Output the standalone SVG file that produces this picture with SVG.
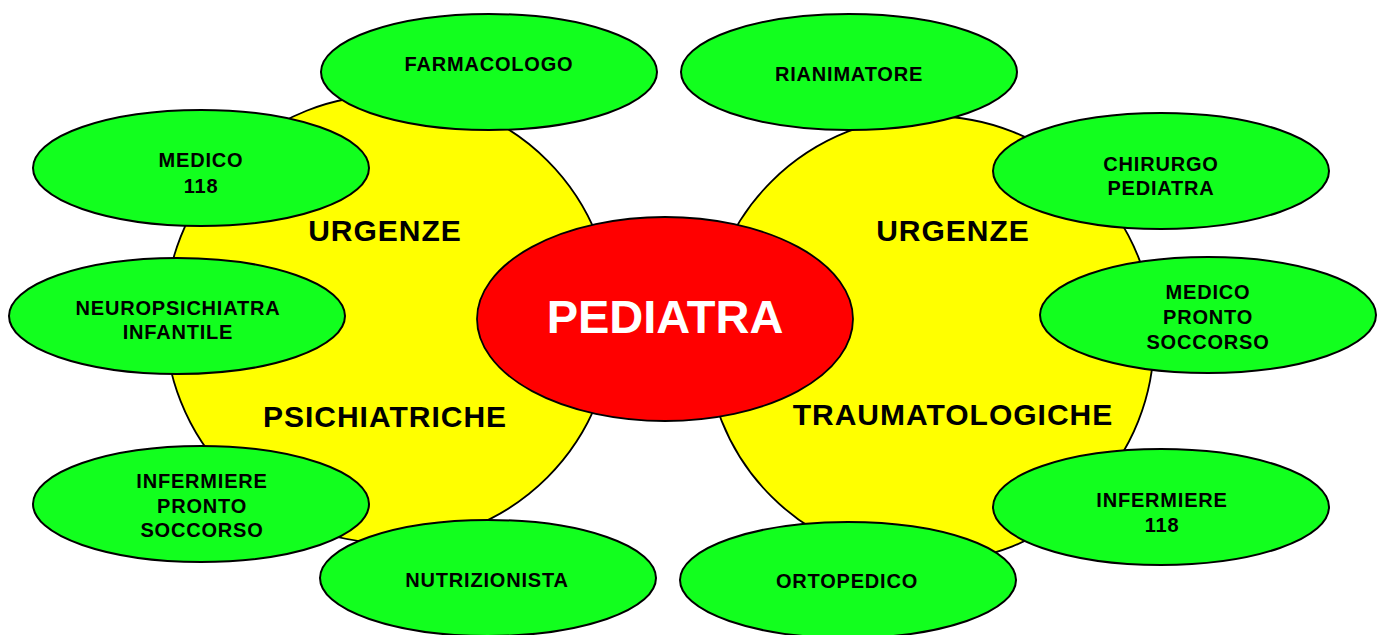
<svg xmlns="http://www.w3.org/2000/svg" width="1383" height="635" viewBox="0 0 1383 635">
<style>
.y{fill:#FFFF00;stroke:#000;stroke-width:1.8}
.r{fill:#FF0000;stroke:#000;stroke-width:1.8}
.g{fill:#12FF1E;stroke:#000;stroke-width:2}
.t{font-family:"Liberation Sans",Arial,sans-serif;font-weight:bold;font-size:20px;letter-spacing:0.8px;text-anchor:middle;fill:#000}
.b{font-family:"Liberation Sans",Arial,sans-serif;font-weight:bold;font-size:30px;letter-spacing:1px;text-anchor:middle;fill:#000}
.p{font-family:"Liberation Sans",Arial,sans-serif;font-weight:bold;font-size:47px;text-anchor:middle;fill:#fff}
</style>
<rect width="1383" height="635" fill="#fff"/>
<g id="connectors"></g>
<g id="urgenze-psichiatriche">
<circle class="y" cx="389" cy="319" r="224"/>
<text class="b" x="385" y="241">URGENZE</text>
<text class="b" x="385" y="427">PSICHIATRICHE</text>
</g>
<g id="urgenze-traumatologiche">
<ellipse class="y" cx="930" cy="339" rx="224" ry="223"/>
<text class="b" x="953" y="241">URGENZE</text>
<text class="b" x="953" y="425">TRAUMATOLOGICHE</text>
</g>
<g id="pediatra">
<ellipse class="r" cx="665" cy="319" rx="188" ry="102"/>
<text class="p" x="665" y="333">PEDIATRA</text>
</g>
<g id="farmacologo">
<ellipse class="g" cx="489" cy="72" rx="168" ry="58"/>
<text class="t" x="489" y="71">FARMACOLOGO</text>
</g>
<g id="rianimatore">
<ellipse class="g" cx="849" cy="72" rx="168" ry="58"/>
<text class="t" x="849" y="81">RIANIMATORE</text>
</g>
<g id="medico-118">
<ellipse class="g" cx="201" cy="168" rx="168" ry="58"/>
<text class="t" x="201" y="167">MEDICO</text>
<text class="t" x="201" y="193">118</text>
</g>
<g id="chirurgo-pediatra">
<ellipse class="g" cx="1161" cy="171" rx="168" ry="58"/>
<text class="t" x="1161" y="171">CHIRURGO</text>
<text class="t" x="1161" y="195">PEDIATRA</text>
</g>
<g id="neuropsichiatra">
<ellipse class="g" cx="177" cy="316" rx="168" ry="58"/>
<text class="t" x="178" y="315">NEUROPSICHIATRA</text>
<text class="t" x="178" y="339">INFANTILE</text>
</g>
<g id="medico-pronto-soccorso">
<ellipse class="g" cx="1208" cy="315" rx="168" ry="58"/>
<text class="t" x="1208" y="299">MEDICO</text>
<text class="t" x="1208" y="324">PRONTO</text>
<text class="t" x="1208" y="349">SOCCORSO</text>
</g>
<g id="infermiere-pronto-soccorso">
<ellipse class="g" cx="201" cy="504" rx="168" ry="58"/>
<text class="t" x="202" y="488">INFERMIERE</text>
<text class="t" x="202" y="513">PRONTO</text>
<text class="t" x="202" y="537">SOCCORSO</text>
</g>
<g id="infermiere-118">
<ellipse class="g" cx="1161" cy="507" rx="168" ry="58"/>
<text class="t" x="1162" y="507">INFERMIERE</text>
<text class="t" x="1162" y="532">118</text>
</g>
<g id="nutrizionista">
<ellipse class="g" cx="488" cy="578" rx="168" ry="58"/>
<text class="t" x="487" y="587">NUTRIZIONISTA</text>
</g>
<g id="ortopedico">
<ellipse class="g" cx="848" cy="580" rx="168" ry="58"/>
<text class="t" x="847" y="588">ORTOPEDICO</text>
</g>
</svg>
